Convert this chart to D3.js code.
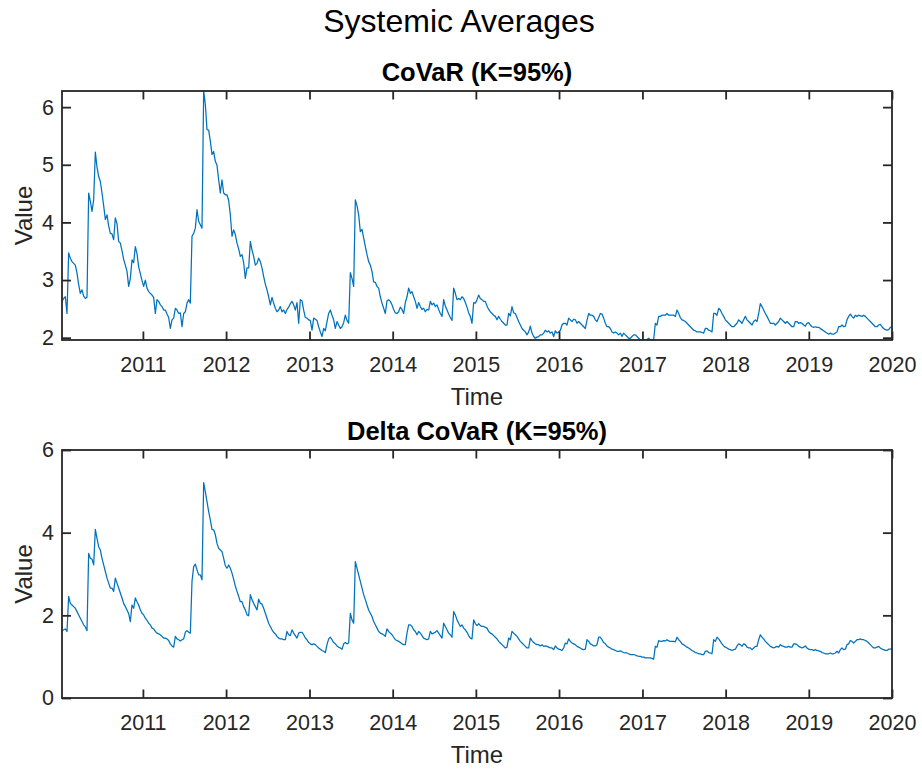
<!DOCTYPE html>
<html><head><meta charset="utf-8">
<script src="https://cdn.jsdelivr.net/npm/d3@7"></script>
<style>body{margin:0;background:#fff}</style>
</head><body>
<script>
// ---------------- data ----------------
const figureTitle = "Systemic Averages";
const panelTitles = ["CoVaR (K=95%)", "Delta CoVaR (K=95%)"];
const xLabel = "Time";
const yLabel = "Value";
const startDate = "2010-01-11";
const endDate = "2020-01-01";
const yearTicks = [2011, 2012, 2013, 2014, 2015, 2016, 2017, 2018, 2019, 2020];
const covarTicks = [2, 3, 4, 5, 6];
const deltaTicks = [0, 2, 4, 6];
const deltaDomain = [0, 6];

// weekly systemic average CoVaR (K=95%), evenly spaced from startDate to endDate
const covar = [
2.63,2.68,2.71,2.42,3.47,3.38,3.32,3.29,3.26,3.12,
2.92,2.77,2.83,2.72,2.68,2.70,4.51,4.37,4.19,4.39,
5.22,4.96,4.80,4.71,4.51,4.29,4.05,4.13,3.94,3.81,
3.80,3.70,4.08,3.98,3.67,3.64,3.51,3.36,3.26,3.15,
2.89,3.03,3.35,3.30,3.58,3.46,3.23,3.11,2.99,2.89,
3.00,2.86,2.80,2.77,2.74,2.70,2.42,2.66,2.63,2.57,
2.54,2.48,2.48,2.41,2.35,2.16,2.31,2.34,2.51,2.48,
2.42,2.43,2.19,2.42,2.45,2.60,2.66,2.60,3.76,3.81,
3.90,4.22,4.02,3.96,3.90,6.28,6.05,5.61,5.60,5.41,
5.18,5.23,5.06,4.99,4.74,4.51,4.74,4.51,4.48,4.48,
4.38,4.13,3.76,3.87,3.79,3.64,3.54,3.41,3.44,3.30,
3.03,3.21,3.21,3.67,3.52,3.41,3.26,3.29,3.38,3.32,
3.21,3.06,2.93,2.83,2.71,2.57,2.70,2.60,2.51,2.45,
2.48,2.54,2.45,2.48,2.42,2.49,2.53,2.59,2.63,2.57,
2.48,2.61,2.25,
2.66,2.64,2.48,2.35,2.34,2.31,2.30,2.13,2.34,2.32,
2.30,2.19,2.10,2.02,2.16,2.12,2.28,2.42,2.48,2.39,
2.31,2.16,2.28,2.22,2.16,2.19,2.26,2.39,2.30,2.25,
3.13,3.03,2.89,4.39,4.29,4.13,3.84,3.88,3.73,3.58,
3.44,3.32,3.26,3.15,2.97,2.96,2.89,2.86,2.71,2.60,
2.51,2.42,2.64,2.66,2.63,2.57,2.49,2.43,2.42,2.45,
2.53,2.49,2.42,2.61,2.71,2.86,2.77,2.80,2.71,2.63,
2.51,2.61,2.54,2.49,2.51,2.45,2.49,2.48,2.63,2.57,
2.60,2.54,2.57,2.49,2.42,2.37,2.66,2.55,2.48,2.41,
2.35,2.30,2.86,2.77,2.66,2.68,2.66,2.71,2.68,2.61,
2.53,2.43,2.37,2.25,2.61,2.60,2.66,2.74,2.68,2.66,
2.63,2.63,2.55,2.49,2.45,2.42,2.39,2.37,2.31,2.37,
2.32,2.28,2.25,2.22,2.22,2.42,2.38,2.54,2.43,2.42,
2.35,2.28,2.22,2.16,2.13,2.10,2.05,2.10,2.20,2.08,
2.02,1.99,2.01,2.02,2.05,2.05,2.08,2.13,2.10,2.12,
2.08,2.10,2.02,2.12,2.08,2.10,2.13,2.22,2.25,2.25,
2.22,2.34,2.31,2.28,2.32,2.31,2.25,2.28,2.25,2.22,
2.19,2.16,2.30,2.42,2.39,2.39,2.37,2.31,2.28,2.35,
2.42,2.41,2.34,2.25,2.19,2.19,2.16,2.10,2.08,2.10,
2.08,2.05,2.08,2.02,2.08,2.05,2.02,1.99,1.99,2.02,
2.05,2.05,2.02,1.99,1.96,1.96,1.96,1.96,1.97,1.99,
1.96,1.96,1.96,2.25,2.22,2.37,2.37,2.39,2.39,2.39,
2.42,2.39,2.39,2.39,2.39,2.37,2.48,2.42,2.35,2.31,
2.30,2.28,2.25,2.22,2.19,2.16,2.13,2.12,2.10,2.10,
2.10,2.09,2.08,2.16,2.16,2.13,2.12,2.10,2.42,2.42,
2.39,2.51,2.48,2.42,2.37,2.31,2.28,2.25,2.22,2.19,
2.19,2.22,2.25,2.31,2.28,2.25,2.31,2.37,2.31,2.28,
2.25,2.22,2.28,2.31,2.28,2.42,2.59,2.54,2.48,2.42,
2.37,2.31,2.25,2.25,2.25,2.22,2.25,2.28,2.34,2.31,
2.28,2.25,2.28,2.25,2.22,2.19,2.19,2.28,2.28,2.25,
2.26,2.25,2.22,2.20,2.25,2.26,2.22,2.19,2.18,2.19,
2.18,2.18,2.16,2.14,2.12,2.10,2.08,2.06,2.08,2.06,
2.06,2.08,2.10,2.19,2.19,2.22,2.19,2.20,2.31,2.37,
2.41,2.37,2.34,2.39,2.37,2.39,2.38,2.37,2.39,2.37,
2.34,2.31,2.28,2.25,2.22,2.19,2.19,2.22,2.23,2.19,
2.16,2.14,2.13,2.14,2.18,2.19
];

// weekly systemic average Delta CoVaR (K=95%), same dates
const deltaCovar = [
1.63,1.65,1.67,1.61,2.46,2.29,2.25,2.21,2.17,2.09,
2.01,1.93,1.85,1.77,1.72,1.63,3.50,3.38,3.36,3.22,
4.08,3.86,3.66,3.58,3.38,3.22,3.06,2.90,2.78,2.66,
2.66,2.58,2.90,2.78,2.66,2.54,2.42,2.29,2.21,2.13,
2.04,1.85,2.25,2.17,2.42,2.33,2.25,2.13,2.05,2.01,
1.93,1.88,1.81,1.77,1.69,1.67,1.61,1.57,1.55,1.53,
1.49,1.45,1.45,1.43,1.39,1.31,1.26,1.23,1.49,1.43,
1.41,1.38,1.41,1.43,1.59,1.63,1.59,1.57,2.82,3.18,
3.24,3.10,2.98,2.98,2.86,5.21,4.99,4.75,4.51,4.31,
4.08,4.07,3.95,3.74,3.62,3.58,3.54,3.38,3.20,3.14,
3.22,3.14,3.02,2.87,2.71,2.58,2.46,2.33,2.33,2.21,
2.13,2.01,1.99,2.50,2.38,2.29,2.21,2.13,2.39,2.29,
2.27,2.17,2.05,1.93,1.81,1.73,1.65,1.59,1.55,1.49,
1.45,1.43,1.43,1.41,1.41,1.61,1.53,1.51,1.65,1.57,
1.51,1.45,1.57,
1.59,1.59,1.53,1.45,1.41,1.34,1.31,1.29,1.31,1.29,
1.25,1.21,1.18,1.15,1.13,1.10,1.29,1.43,1.47,1.41,
1.34,1.31,1.26,1.23,1.21,1.18,1.31,1.34,1.31,1.33,
2.05,1.89,1.81,3.30,3.14,2.98,2.82,2.66,2.50,2.38,
2.25,2.13,2.05,1.97,1.85,1.77,1.69,1.61,1.57,1.55,
1.53,1.49,1.67,1.61,1.57,1.53,1.47,1.41,1.39,1.37,
1.34,1.31,1.29,1.29,1.57,1.77,1.77,1.73,1.65,1.61,
1.53,1.61,1.57,1.51,1.45,1.43,1.41,1.43,1.61,1.55,
1.57,1.59,1.63,1.57,1.51,1.45,1.81,1.73,1.65,1.57,
1.53,1.47,2.09,2.01,1.89,1.81,1.73,1.77,1.69,1.65,
1.59,1.51,1.45,1.43,1.89,1.80,1.75,1.80,1.75,1.73,
1.73,1.71,1.69,1.61,1.57,1.55,1.51,1.47,1.43,1.37,
1.33,1.29,1.25,1.21,1.23,1.45,1.41,1.61,1.57,1.53,
1.49,1.43,1.37,1.33,1.29,1.25,1.21,1.21,1.45,1.39,
1.34,1.31,1.29,1.29,1.26,1.29,1.25,1.26,1.25,1.23,
1.21,1.21,1.17,1.26,1.21,1.18,1.17,1.15,1.21,1.33,
1.31,1.43,1.37,1.33,1.31,1.29,1.25,1.23,1.21,1.18,
1.17,1.18,1.41,1.37,1.31,1.29,1.26,1.26,1.29,1.47,
1.47,1.41,1.34,1.31,1.26,1.23,1.21,1.18,1.17,1.15,
1.13,1.13,1.14,1.12,1.10,1.09,1.09,1.07,1.05,1.05,
1.05,1.04,1.02,1.01,1.01,0.99,0.99,0.97,0.97,0.97,
0.97,0.96,0.94,1.25,1.23,1.39,1.37,1.37,1.39,1.38,
1.41,1.38,1.37,1.37,1.37,1.36,1.47,1.41,1.37,1.31,
1.29,1.26,1.23,1.21,1.18,1.15,1.13,1.10,1.09,1.07,
1.07,1.05,1.05,1.13,1.14,1.10,1.09,1.07,1.41,1.37,
1.47,1.43,1.37,1.31,1.26,1.23,1.21,1.18,1.17,1.15,
1.17,1.18,1.26,1.31,1.29,1.25,1.31,1.29,1.23,1.21,
1.21,1.17,1.21,1.25,1.25,1.41,1.53,1.47,1.43,1.37,
1.33,1.29,1.25,1.23,1.21,1.23,1.25,1.23,1.29,1.26,
1.25,1.23,1.23,1.25,1.23,1.23,1.31,1.31,1.29,1.25,
1.23,1.21,1.23,1.26,1.21,1.18,1.17,1.17,1.15,1.17,
1.15,1.14,1.13,1.10,1.09,1.07,1.07,1.07,1.09,1.07,
1.07,1.09,1.13,1.09,1.17,1.21,1.17,1.18,1.29,1.31,
1.39,1.37,1.33,1.37,1.41,1.41,1.43,1.41,1.41,1.39,
1.37,1.33,1.29,1.25,1.21,1.21,1.23,1.25,1.21,1.18,
1.17,1.15,1.15,1.18,1.18,1.18
];

// ---------------- drawing ----------------
const W = 922, H = 771;
const FONT = "'Liberation Sans', Arial, Helvetica, sans-serif";
const AXIS_COLOR = "#262626";
const LINE_COLOR = "#0072BD";

const svg = d3.select("body").append("svg")
  .attr("width", W).attr("height", H)
  .style("font-family", FONT);

svg.append("text")
  .attr("x", 459).attr("y", 32)
  .attr("text-anchor", "middle")
  .attr("font-size", 32)
  .attr("fill", "#000")
  .text(figureTitle);

const t0 = d3.utcParse("%Y-%m-%d")(startDate);
const t1 = d3.utcParse("%Y-%m-%d")(endDate);
const n = covar.length;
const dates = d3.range(n).map(i => new Date(+t0 + (t1 - t0) * i / (n - 1)));
const yearDates = yearTicks.map(y => new Date(Date.UTC(y, 0, 1)));

const left = 62, right = 892;
const x = d3.scaleUtc().domain([t0, t1]).range([left, right]);

const panels = [
  { top: 91, bottom: 340, values: covar, domain: d3.extent(covar), ticks: covarTicks, title: panelTitles[0] },
  { top: 450, bottom: 698, values: deltaCovar, domain: deltaDomain, ticks: deltaTicks, title: panelTitles[1] }
];

panels.forEach((p, pi) => {
  const y = d3.scaleLinear().domain(p.domain).range([p.bottom, p.top]);
  const g = svg.append("g");
  const clipId = "clip" + pi;
  svg.append("clipPath").attr("id", clipId).append("rect")
    .attr("x", left).attr("y", p.top).attr("width", right - left).attr("height", p.bottom - p.top);

  // data line
  const line = d3.line().x((d, i) => x(dates[i])).y(d => y(d));
  g.append("path")
    .datum(p.values)
    .attr("clip-path", `url(#${clipId})`)
    .attr("fill", "none")
    .attr("stroke", LINE_COLOR)
    .attr("stroke-width", 1.25)
    .attr("stroke-linejoin", "round")
    .attr("d", line);

  const styleAxis = sel => {
    sel.select(".domain").remove();
    sel.selectAll(".tick line").attr("stroke", AXIS_COLOR).attr("stroke-width", 1.8);
    sel.selectAll(".tick text").attr("fill", AXIS_COLOR).attr("font-size", 21.5).attr("font-family", FONT);
  };

  // bottom axis with labels
  g.append("g").attr("transform", `translate(0,${p.bottom})`)
    .call(d3.axisBottom(x).tickValues(yearDates).tickFormat(d3.utcFormat("%Y")).tickSize(-8.5).tickPadding(16.5))
    .call(styleAxis);
  // top mirror
  g.append("g").attr("transform", `translate(0,${p.top})`)
    .call(d3.axisTop(x).tickValues(yearDates).tickFormat("").tickSize(-8.5))
    .call(styleAxis);
  // left axis with labels
  g.append("g").attr("transform", `translate(${left},0)`)
    .call(d3.axisLeft(y).tickValues(p.ticks).tickFormat(d3.format("d")).tickSize(-9).tickPadding(8))
    .call(styleAxis);
  // right mirror
  g.append("g").attr("transform", `translate(${right},0)`)
    .call(d3.axisRight(y).tickValues(p.ticks).tickFormat("").tickSize(-9))
    .call(styleAxis);

  // box
  g.append("rect")
    .attr("x", left).attr("y", p.top)
    .attr("width", right - left).attr("height", p.bottom - p.top)
    .attr("fill", "none").attr("stroke", AXIS_COLOR).attr("stroke-width", 1.8);

  // panel title
  g.append("text")
    .attr("x", (left + right) / 2).attr("y", p.top - 10)
    .attr("text-anchor", "middle")
    .attr("font-size", 25.5).attr("font-weight", "bold")
    .attr("fill", "#000")
    .text(p.title);

  // x label
  g.append("text")
    .attr("x", (left + right) / 2).attr("y", p.bottom + 65)
    .attr("text-anchor", "middle")
    .attr("font-size", 24)
    .attr("fill", AXIS_COLOR)
    .text(xLabel);

  // y label
  g.append("text")
    .attr("transform", `translate(32,${(p.top + p.bottom) / 2}) rotate(-90)`)
    .attr("text-anchor", "middle")
    .attr("font-size", 24)
    .attr("fill", AXIS_COLOR)
    .text(yLabel);
});
</script>
</body></html>
